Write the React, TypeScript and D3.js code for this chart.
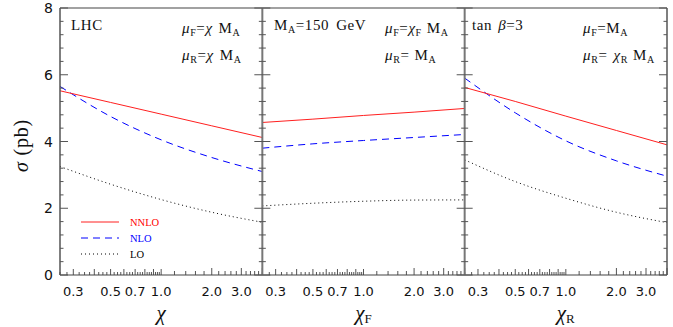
import React from "react";
import * as d3 from "d3";

const chiGrid = [0.25, 0.5, 1.0, 2.0, 4.0];

// Panel 1: mu_F = mu_R = chi M_A
const p1NNLO = [5.52, 5.17, 4.82, 4.47, 4.12];
const p1NLO = [5.65, 4.75, 4.05, 3.52, 3.1];
const p1LO = [3.25, 2.72, 2.26, 1.88, 1.58];
// Panel 2: mu_F = chi_F M_A
const p2NNLO = [4.57, 4.67, 4.78, 4.88, 4.99];
const p2NLO = [3.8, 3.93, 4.03, 4.12, 4.21];
const p2LO = [2.07, 2.15, 2.21, 2.245, 2.25];
// Panel 3: mu_R = chi_R M_A
const p3NNLO = [5.62, 5.2, 4.76, 4.33, 3.9];
const p3NLO = [5.9, 4.86, 4.02, 3.42, 2.96];
const p3LO = [3.45, 2.8, 2.3, 1.88, 1.57];

const xTickLabels = [0.3, 0.5, 0.7, 1.0, 2.0, 3.0];
const yTickLabels = [0, 2, 4, 6, 8];

const W = 673, H = 327;
const left = 60, right = 667, top = 8, bottom = 275;
const pw = (right - left) / 3;

const y = d3.scaleLinear().domain([0, 8]).range([bottom, top]);

const panels = [
  { nnlo: p1NNLO, nlo: p1NLO, lo: p1LO },
  { nnlo: p2NNLO, nlo: p2NLO, lo: p2LO },
  { nnlo: p3NNLO, nlo: p3NLO, lo: p3LO },
];

function minorTicks(): { v: number; len: number }[] {
  const out: { v: number; len: number }[] = [];
  for (let i = 0; i <= 30; i++) {
    const v = +(0.25 + i * 0.025).toFixed(3);
    if (v > 1.0001) break;
    const tenth = Math.abs(v * 10 - Math.round(v * 10)) < 1e-6;
    out.push({ v, len: tenth ? 6 : 3 });
  }
  for (let i = 1; i <= 15; i++) {
    const v = +(1 + i * 0.2).toFixed(3);
    const whole = Math.abs(v - Math.round(v)) < 1e-6;
    out.push({ v, len: whole ? 7 : 4 });
  }
  return out;
}

const serif = "Liberation Serif, Times New Roman, serif";
const sans = "DejaVu Sans, sans-serif";

const sub = 10;

export default function App() {
  const ticks = minorTicks();
  const yMinor = d3.range(0, 8.001, 0.4);
  return (
    <svg width={W} height={H} style={{ position: "absolute", left: 0, top: 0, background: "#fff" }}>
      {panels.map((p, i) => {
        const x0 = left + i * pw;
        const x = d3.scaleLog().domain([0.25, 4]).range([x0, x0 + pw]);
        const line = d3
          .line<number>()
          .x((_, k) => x(chiGrid[k]))
          .y((d) => y(d))
          .curve(d3.curveMonotoneX);
        return (
          <g key={i}>
            <path d={line(p.lo) || ""} fill="none" stroke="#000" strokeWidth={1} strokeDasharray="1,3" />
            <path d={line(p.nlo) || ""} fill="none" stroke="#0000ff" strokeWidth={1} strokeDasharray="7,5" />
            <path d={line(p.nnlo) || ""} fill="none" stroke="#ff2020" strokeWidth={1} />
            {ticks.map((t, k) => (
              <line key={k} x1={x(t.v)} x2={x(t.v)} y1={bottom} y2={bottom - t.len} stroke="#555" strokeWidth={1} />
            ))}
            {xTickLabels.map((t, k) => (
              <text key={k} x={x(t)} y={296} textAnchor="middle" fontFamily={sans} fontSize={13} fill="#111">
                {t.toFixed(1)}
              </text>
            ))}
          </g>
        );
      })}
      {/* frame */}
      <line x1={left} x2={right} y1={top} y2={top} stroke="#444" strokeWidth={1.2} />
      <line x1={left} x2={right} y1={bottom} y2={bottom} stroke="#444" strokeWidth={1.2} />
      <line x1={left} x2={left} y1={top} y2={bottom} stroke="#555" strokeWidth={1.5} />
      <line x1={right} x2={right} y1={top} y2={bottom} stroke="#555" strokeWidth={1.5} />
      {[1, 2].map((i) => (
        <line key={i} x1={left + i * pw} x2={left + i * pw} y1={top} y2={bottom} stroke="#777" strokeWidth={2} />
      ))}
      {/* y ticks */}
      {yMinor.map((v, k) => {
        const major = Math.abs(v / 2 - Math.round(v / 2)) < 1e-6;
        const len = major ? 8 : 3.5;
        return (
          <g key={k}>
            <line x1={left} x2={left + len} y1={y(v)} y2={y(v)} stroke="#555" strokeWidth={1} />
            <line x1={right - len} x2={right} y1={y(v)} y2={y(v)} stroke="#555" strokeWidth={1} />
            {[1, 2].map((i) => (
              <line key={i} x1={left + i * pw - len} x2={left + i * pw + len} y1={y(v)} y2={y(v)} stroke="#555" strokeWidth={1} />
            ))}
          </g>
        );
      })}
      {yTickLabels.map((v) => (
        <text key={v} x={53} y={y(v) + 5} textAnchor="end" fontFamily={sans} fontSize={14} fill="#111">
          {v}
        </text>
      ))}
      <text transform={`translate(28,${(top + bottom) / 2 + 4}) rotate(-90)`} textAnchor="middle" fontFamily={serif} fontSize={20} letterSpacing={0.8} fill="#111">
        <tspan fontStyle="italic">σ</tspan> (pb)
      </text>
      {/* x labels */}
      <text x={left + pw / 2} y={320} textAnchor="middle" fontFamily={serif} fontSize={21} fontStyle="italic" fill="#111">χ</text>
      <text x={left + 1.5 * pw} y={320} textAnchor="middle" fontFamily={serif} fontSize={21} fill="#111">
        <tspan fontStyle="italic">χ</tspan>
        <tspan fontSize={13} dy={3}>F</tspan>
      </text>
      <text x={left + 2.5 * pw} y={320} textAnchor="middle" fontFamily={serif} fontSize={21} fill="#111">
        <tspan fontStyle="italic">χ</tspan>
        <tspan fontSize={13} dy={3}>R</tspan>
      </text>
      {/* annotations */}
      <g fontFamily={serif} fontSize={15} letterSpacing={0.6} fill="#111">
        <text x={71} y={30}>LHC</text>
        <text x={182} y={33}>
          <tspan fontStyle="italic">μ</tspan><tspan fontSize={sub} dy={3}>F</tspan><tspan dy={-3}>=</tspan><tspan fontStyle="italic">χ</tspan><tspan dx={6}>M</tspan><tspan fontSize={sub} dy={3}>A</tspan>
        </text>
        <text x={182} y={60}>
          <tspan fontStyle="italic">μ</tspan><tspan fontSize={sub} dy={3}>R</tspan><tspan dy={-3}>=</tspan><tspan fontStyle="italic">χ</tspan><tspan dx={6}>M</tspan><tspan fontSize={sub} dy={3}>A</tspan>
        </text>
        <text x={274} y={30}>
          <tspan>M</tspan><tspan fontSize={sub} dy={3}>A</tspan><tspan dy={-3}>=150</tspan><tspan dx={7}>GeV</tspan>
        </text>
        <text x={385} y={33}>
          <tspan fontStyle="italic">μ</tspan><tspan fontSize={sub} dy={3}>F</tspan><tspan dy={-3}>=</tspan><tspan fontStyle="italic">χ</tspan><tspan fontSize={sub} dy={3}>F</tspan><tspan dy={-3} dx={5}>M</tspan><tspan fontSize={sub} dy={3}>A</tspan>
        </text>
        <text x={385} y={60}>
          <tspan fontStyle="italic">μ</tspan><tspan fontSize={sub} dy={3}>R</tspan><tspan dy={-3}>=</tspan><tspan dx={5}>M</tspan><tspan fontSize={sub} dy={3}>A</tspan>
        </text>
        <text x={472} y={30}>
          <tspan>tan</tspan><tspan fontStyle="italic" dx={6}>β</tspan><tspan>=3</tspan>
        </text>
        <text x={583} y={33}>
          <tspan fontStyle="italic">μ</tspan><tspan fontSize={sub} dy={3}>F</tspan><tspan dy={-3}>=M</tspan><tspan fontSize={sub} dy={3}>A</tspan>
        </text>
        <text x={583} y={60}>
          <tspan fontStyle="italic">μ</tspan><tspan fontSize={sub} dy={3}>R</tspan><tspan dy={-3}>=</tspan><tspan fontStyle="italic" dx={6}>χ</tspan><tspan fontSize={sub} dy={3}>R</tspan><tspan dy={-3} dx={5}>M</tspan><tspan fontSize={sub} dy={3}>A</tspan>
        </text>
      </g>
      {/* legend */}
      <g fontFamily={serif} fontSize={10.5}>
        <line x1={81} x2={119} y1={222} y2={222} stroke="#ff2020" strokeWidth={1} />
        <line x1={81} x2={119} y1={238} y2={238} stroke="#0000ff" strokeWidth={1} strokeDasharray="7,5" />
        <line x1={81} x2={119} y1={254} y2={254} stroke="#000" strokeWidth={1} strokeDasharray="1,3" />
        <text x={130} y={226} fill="#ff0000">NNLO</text>
        <text x={130} y={242} fill="#0000ff">NLO</text>
        <text x={130} y={258} fill="#000">LO</text>
      </g>
    </svg>
  );
}
